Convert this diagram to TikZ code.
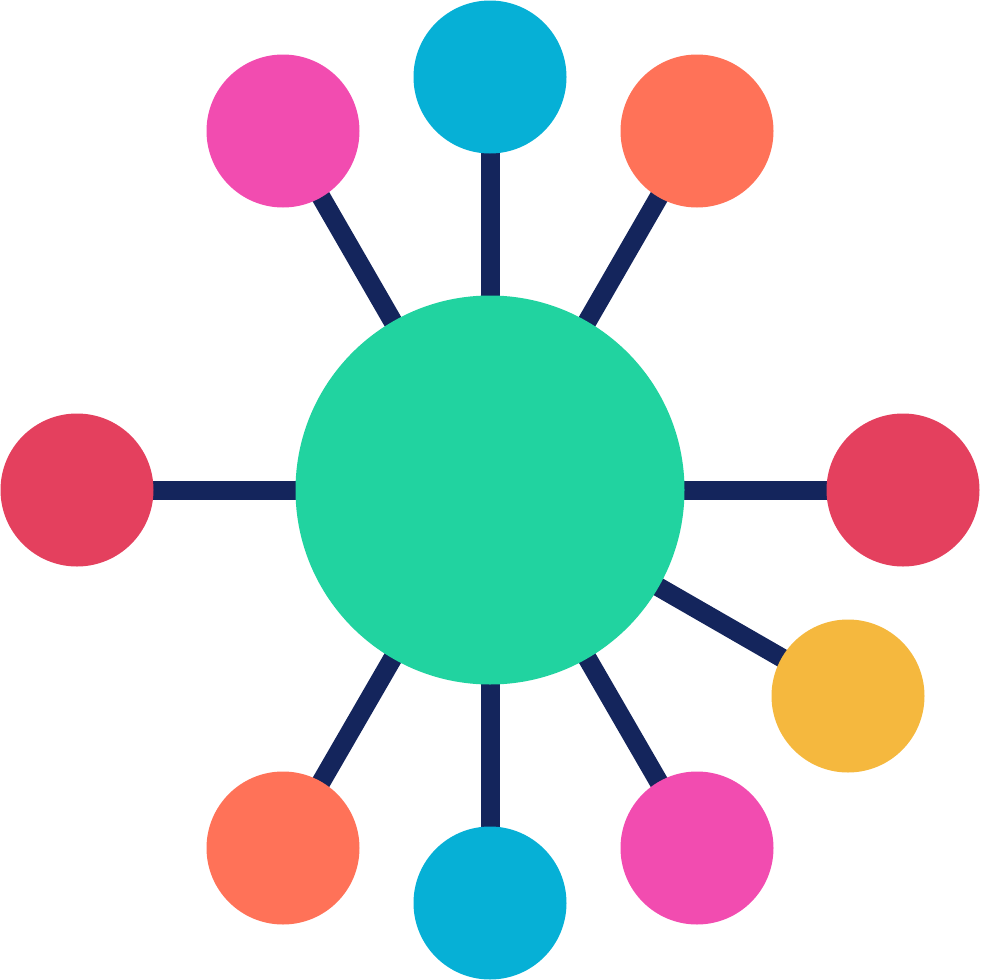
\documentclass[tikz,border=0pt]{standalone}
\usetikzlibrary{backgrounds}
\definecolor{navy}{RGB}{20,37,92}
\definecolor{teal}{RGB}{33,211,160}
\definecolor{cblue}{RGB}{6,176,214}
\definecolor{cpink}{RGB}{242,76,176}
\definecolor{corange}{RGB}{255,114,88}
\definecolor{cred}{RGB}{228,64,94}
\definecolor{cyellow}{RGB}{245,184,62}
\begin{document}
\begin{tikzpicture}[x=1pt,y=-1pt,
  leaf/.style={circle,minimum size=153pt,inner sep=0pt,draw=none},
  hub/.style={circle,minimum size=389pt,inner sep=0pt,draw=none,fill=teal},
  link/.style={draw=navy,line width=19pt}]
\useasboundingbox (0,0) rectangle (980,980);
\node[hub] (c) at (490,490) {};
\node[leaf,fill=cblue] (t) at (490,77) {};
\node[leaf,fill=cpink] (tl) at (283,131) {};
\node[leaf,fill=corange] (tr) at (697,131) {};
\node[leaf,fill=cred] (l) at (77,490) {};
\node[leaf,fill=cred] (r) at (903,490) {};
\node[leaf,fill=cyellow] (y) at (848,696) {};
\node[leaf,fill=corange] (bl) at (283,848) {};
\node[leaf,fill=cblue] (b) at (490,903) {};
\node[leaf,fill=cpink] (br) at (697,848) {};
\begin{scope}[on background layer]
\foreach \n in {t,tl,tr,l,r,y,bl,b,br}{
  \path[link] (c.center) -- (\n.center);
}
\end{scope}
\end{tikzpicture}
\end{document}
